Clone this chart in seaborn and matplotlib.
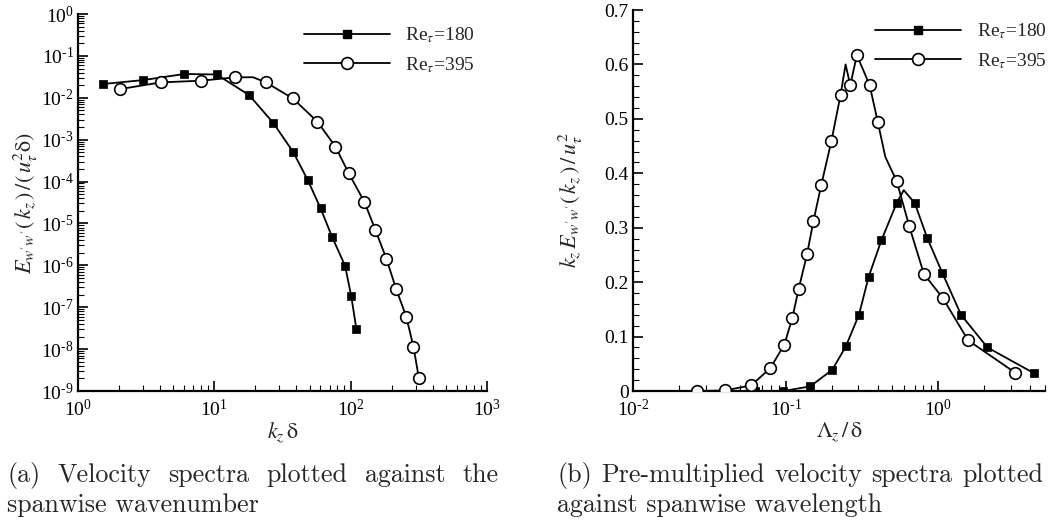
import numpy as np
import pandas as pd
import matplotlib
matplotlib.use('Agg')
import matplotlib.pyplot as plt
import seaborn as sns
from matplotlib.lines import Line2D
from matplotlib.ticker import LogLocator, MultipleLocator, FuncFormatter, NullFormatter

# (a) spectra vs spanwise wavenumber
kz_180 = [1.52, 3.01, 6.02, 10.4, 18.0, 27.0, 37.9, 48.5, 60.1, 73.2, 91.0, 101, 110]
E_180 = [0.0213, 0.0265, 0.037, 0.036, 0.0116, 0.00254, 5.06e-4, 1.08e-4,
         2.32e-5, 4.72e-6, 9.75e-7, 1.84e-7, 3.1e-8]
kz_395 = [2.05, 4.04, 7.97, 14.1, 23.9, 37.6, 57.1, 77.4, 96.9, 126, 152, 183,
          215, 256, 289, 316]
E_395 = [0.0162, 0.0233, 0.0256, 0.0307, 0.0233, 0.0097, 0.00268, 6.78e-4,
         1.56e-4, 3.3e-5, 6.93e-6, 1.43e-6, 2.8e-7, 5.9e-8, 1.13e-8, 2.1e-9]
# points of the curve between markers
kz_395_extra = [19.2]
E_395_extra = [0.031]

# (b) pre-multiplied spectra vs spanwise wavelength
lam_180 = [0.063, 0.0966, 0.145, 0.202, 0.248, 0.302, 0.350, 0.424, 0.535,
           0.702, 0.847, 1.063, 1.41, 2.10, 4.22]
pm_180 = [0, 0, 0.0086, 0.039, 0.082, 0.140, 0.210, 0.277, 0.346, 0.345,
          0.281, 0.217, 0.140, 0.080, 0.033]
lam_180_extra = [0.594]
pm_180_extra = [0.369]
lam_395 = [0.0264, 0.0399, 0.0595, 0.0793, 0.098, 0.1106, 0.1218, 0.138, 0.152,
           0.171, 0.1997, 0.229, 0.265, 0.293, 0.355, 0.401, 0.535, 0.645,
           0.805, 1.069, 1.57, 3.18]
pm_395 = [0, 0.001, 0.0104, 0.042, 0.085, 0.134, 0.188, 0.251, 0.312, 0.378,
          0.460, 0.544, 0.562, 0.617, 0.562, 0.495, 0.385, 0.303, 0.215, 0.171,
          0.093, 0.034]
lam_395_extra = [0.247, 0.45]
pm_395_extra = [0.600, 0.43]

labels = [r'Re$_\tau$=180', r'Re$_\tau$=395']
caption_a = ['(a) Velocity spectra plotted against the', 'spanwise wavenumber']
caption_b = ['(b) Pre-multiplied velocity spectra plotted', 'against spanwise wavelength']


def curve(x, y, xe, ye):
    d = pd.DataFrame({'x': list(x) + list(xe), 'y': list(y) + list(ye)})
    return d.sort_values('x')


def pow10(v, pos):
    e = int(round(np.log10(v)))
    s = r'\text{-}' + str(-e) if e < 0 else str(e)
    return r'$\mathdefault{10^{' + s + '}}$'


sns.set_style('ticks')
plt.rcParams['font.family'] = ['Liberation Serif', 'DejaVu Serif']
plt.rcParams['mathtext.fontset'] = 'stix'

fig = plt.figure(figsize=(10.61, 5.27), dpi=100)
ax1 = fig.add_axes([0.0735, 0.258, 0.3855, 0.7154])
ax2 = fig.add_axes([0.5966, 0.258, 0.3883, 0.723])

lw = 1.3
sq = dict(marker='s', s=30, color='k', edgecolor='k', linewidth=0.5, zorder=3)
ci = dict(marker='o', s=70, color='white', edgecolor='k', linewidth=1.2, zorder=3)

for ax in (ax1, ax2):
    ax.set_xscale('log')

# left panel
c = curve(kz_180, E_180, [], [])
sns.lineplot(data=c, x='x', y='y', ax=ax1, color='k', lw=lw, sort=False, estimator=None)
c = curve(kz_395, E_395, kz_395_extra, E_395_extra)
sns.lineplot(data=c, x='x', y='y', ax=ax1, color='k', lw=lw, sort=False, estimator=None)
sns.scatterplot(x=kz_180, y=E_180, ax=ax1, **sq)
sns.scatterplot(x=kz_395, y=E_395, ax=ax1, **ci)
ax1.set_yscale('log')
ax1.set_xlim(1, 1000)
ax1.set_ylim(1e-9, 1)
ax1.yaxis.set_major_locator(LogLocator(base=10, numticks=20))
ax1.yaxis.set_minor_locator(LogLocator(base=10, subs=np.arange(2, 10), numticks=20))
ax1.yaxis.set_minor_formatter(NullFormatter())
ax1.yaxis.set_major_formatter(FuncFormatter(pow10))
ax1.xaxis.set_major_formatter(FuncFormatter(pow10))
ax1.set_xlabel(r'$k_z\,\mathrm{\delta}$', fontsize=16, labelpad=0)
ax1.set_ylabel(r"$E_{w'w'}(\,k_z\,)\,/(\,u_\tau^2\mathrm{\delta})$", fontsize=16, labelpad=1)

# right panel
c = curve(lam_180, pm_180, lam_180_extra, pm_180_extra)
sns.lineplot(data=c, x='x', y='y', ax=ax2, color='k', lw=lw, sort=False, estimator=None)
c = curve(lam_395, pm_395, lam_395_extra, pm_395_extra)
sns.lineplot(data=c, x='x', y='y', ax=ax2, color='k', lw=lw, sort=False, estimator=None)
sns.scatterplot(x=lam_180, y=pm_180, ax=ax2, **sq)
sns.scatterplot(x=lam_395, y=pm_395, ax=ax2, **ci)
ax2.set_xlim(0.01, 5)
ax2.set_ylim(0, 0.7)
ax2.yaxis.set_major_locator(MultipleLocator(0.1))
ax2.yaxis.set_minor_locator(MultipleLocator(0.02))
ax2.yaxis.set_major_formatter(FuncFormatter(lambda v, p: '0' if abs(v) < 1e-9 else f'{v:.1f}'))
ax2.xaxis.set_major_formatter(FuncFormatter(pow10))
ax2.set_xlabel(r'$\Lambda_z\,/\,\mathrm{\delta}$', fontsize=16, labelpad=0)
ax2.set_ylabel(r"$k_z\,E_{w'w'}(\,k_z\,)\,/\,u_\tau^2$", fontsize=16, labelpad=14)

for ax in (ax1, ax2):
    ax.xaxis.set_minor_formatter(NullFormatter())
    sns.despine(ax=ax)
    for s in ('left', 'bottom'):
        ax.spines[s].set_linewidth(1.6)
        ax.spines[s].set_color('k')
    ax.tick_params(which='both', direction='in', colors='k', labelsize=14, pad=3)
    ax.tick_params(which='major', length=7, width=1.2)
    ax.tick_params(which='minor', length=4, width=0.8)
ax1.tick_params(axis='x', pad=6)
ax2.tick_params(axis='x', pad=6)

handles = [Line2D([], [], color='k', lw=lw, marker='s', markersize=5.5),
           Line2D([], [], color='k', lw=lw, marker='o', markersize=8.5,
                  markerfacecolor='white', markeredgewidth=1.2)]
ax1.legend(handles, labels, loc='upper right', bbox_to_anchor=(1.0, 1.0), frameon=False,
           fontsize=14, handlelength=4.4, handletextpad=0.8, labelspacing=0.5,
           borderaxespad=0.2)
ax2.legend(handles, labels, loc='upper right', bbox_to_anchor=(1.032, 1.0), frameon=False,
           fontsize=14, handlelength=4.4, handletextpad=0.8, labelspacing=0.5,
           borderaxespad=0.2)


# captions, first line justified to the panel width
def caption(lines, x0, x1):
    W, H = fig.bbox.width, fig.bbox.height
    words = lines[0].split(' ')
    txts = [fig.text(0, 1 - 482 / H, w, fontfamily='cmr10', fontsize=18.7,
                     va='baseline', ha='left') for w in words]
    r = fig.canvas.get_renderer()
    widths = [t.get_window_extent(r).width for t in txts]
    gap = (x1 - x0 - sum(widths)) / (len(words) - 1)
    x = x0
    for t, w in zip(txts, widths):
        t.set_x(x / W)
        x += w + gap
    fig.text(x0 / W, 1 - 512 / H, lines[1], fontfamily='cmr10', fontsize=18.7,
             va='baseline', ha='left')


caption(caption_a, 7, 499)
caption(caption_b, 557, 1043)

fig.savefig('out.png', dpi=100)
